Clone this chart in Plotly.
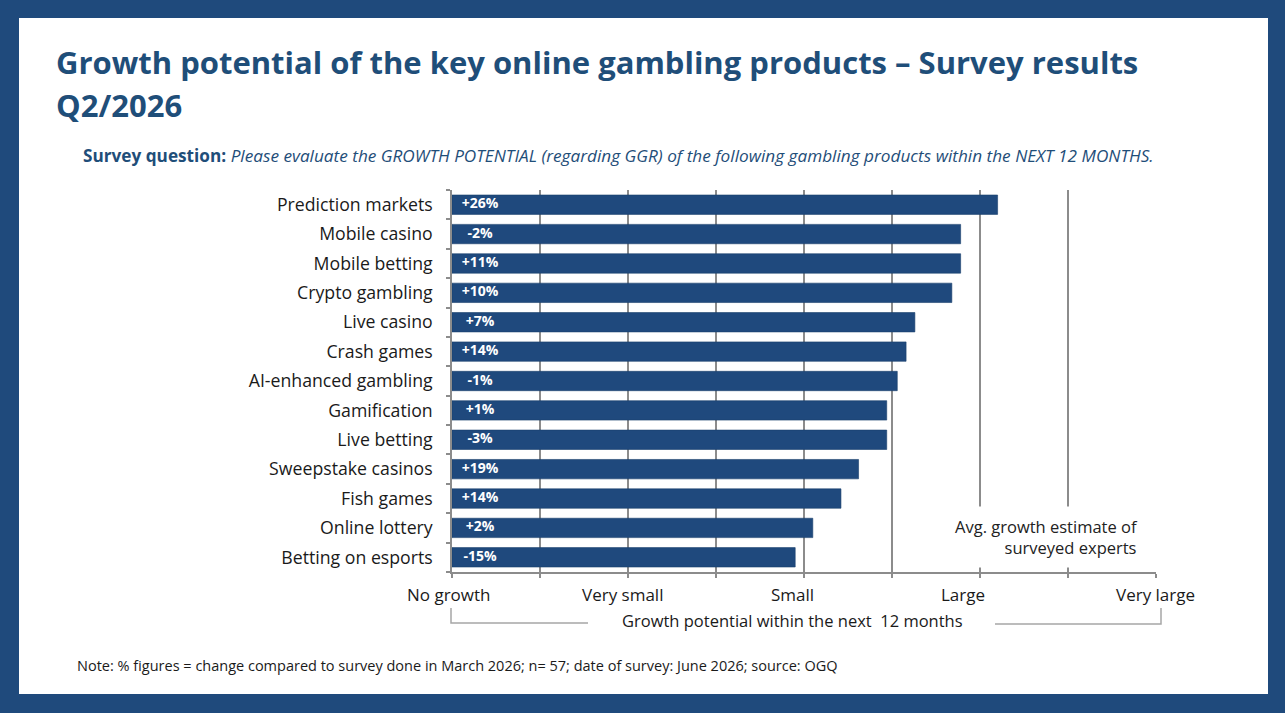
import plotly.graph_objects as go

categories = ["Prediction markets", "Mobile casino", "Mobile betting", "Crypto gambling",
              "Live casino", "Crash games", "AI-enhanced gambling", "Gamification",
              "Live betting", "Sweepstake casinos", "Fish games", "Online lottery",
              "Betting on esports"]
scores = [3.10, 2.89, 2.89, 2.84, 2.63, 2.58, 2.53, 2.47, 2.47, 2.31, 2.21, 2.05, 1.95]
changes = ["+26%", "-2%", "+11%", "+10%", "+7%", "+14%", "-1%", "+1%", "-3%",
           "+19%", "+14%", "+2%", "-15%"]
scale_labels = ["No growth", "Very small", "Small", "Large", "Very large"]
scale_label_px = [449, 622, 792, 963, 1155]

W, H = 1285, 713
L, R, T, B = 452, 1156, 190, 572
def px(x):
    return (x - L) / (R - L)
def py(y):
    return (B - y) / (B - T)

BLUE = "#1F4A7C"
BAR = "#1F497D"
GRID = "#8C8C8C"
FONT = "'Open Sans', Lato, sans-serif"
TXT = "#1a1a1a"

fig = go.Figure()
fig.add_trace(go.Bar(
    y=categories, x=scores, orientation="h",
    marker=dict(color=BAR, line=dict(color="#1A3F6B", width=0.6)),
    width=0.66, hoverinfo="skip",
))
fig.add_trace(go.Scatter(
    y=categories, x=[0.16] * len(categories), mode="text", text=changes,
    textposition="middle center",
    textfont=dict(color="white", size=14, family=FONT, weight="bold"),
    hoverinfo="skip",
))

annotations = []
for lab, p in zip(scale_labels, scale_label_px):
    annotations.append(dict(x=px(p), y=0, xref="paper", yref="paper", text=lab,
                            showarrow=False, xanchor="center", yanchor="top", yshift=-9,
                            font=dict(size=17, color=TXT, family=FONT)))
annotations += [
    dict(x=px(54), y=py(62), xref="paper", yref="paper", xanchor="left", yanchor="middle",
         text="<b>Growth potential of the key online gambling products – Survey results</b>",
         showarrow=False, font=dict(size=31, color="#1F4E79", family=FONT)),
    dict(x=px(54), y=py(105), xref="paper", yref="paper", xanchor="left", yanchor="middle",
         text="<b>Q2/2026</b>", showarrow=False,
         font=dict(size=31, color="#1F4E79", family=FONT)),
    dict(x=px(81), y=py(155), xref="paper", yref="paper", xanchor="left", yanchor="middle",
         text="<b>Survey question:</b> <i>Please evaluate the GROWTH POTENTIAL (regarding GGR) of the following gambling products within the NEXT 12 MONTHS.</i>",
         showarrow=False, font=dict(size=17.2, color="#1F4E79", family=FONT)),
    dict(x=px(1147), y=py(537), xref="paper", yref="paper", xanchor="right", yanchor="middle",
         text="Avg. growth estimate of<br>surveyed experts", align="right",
         showarrow=False, bgcolor="white", borderpad=8,
         font=dict(size=16.5, color="#222222", family=FONT)),
    dict(x=px(792), y=py(620), xref="paper", yref="paper", xanchor="center", yanchor="middle",
         text="Growth potential within the next  12 months", showarrow=False,
         font=dict(size=16.5, color=TXT, family=FONT)),
    dict(x=px(75), y=py(665), xref="paper", yref="paper", xanchor="left", yanchor="middle",
         text="Note: % figures = change compared to survey done in March 2026; n= 57; date of survey: June 2026; source: OGQ",
         showarrow=False, font=dict(size=14.5, color=TXT, family=FONT)),
]

shapes = [
    dict(type="rect", xref="paper", yref="paper", x0=px(19), x1=px(1268), y0=py(694), y1=py(18),
         fillcolor="white", line=dict(width=0), layer="below"),
    dict(type="path", xref="paper", yref="paper",
         path=f"M {px(451)},{py(608)} L {px(451)},{py(623)} L {px(588)},{py(623)}",
         line=dict(color="#A6A6A6", width=1.5)),
    dict(type="path", xref="paper", yref="paper",
         path=f"M {px(995)},{py(624)} L {px(1161)},{py(624)} L {px(1161)},{py(608)}",
         line=dict(color="#A6A6A6", width=1.5)),
]

fig.update_layout(
    width=W, height=H, autosize=False,
    margin=dict(l=L, r=W - R, t=T, b=H - B, pad=0),
    paper_bgcolor=BLUE, plot_bgcolor="white",
    showlegend=False, bargap=0.34,
    font=dict(family=FONT, size=16, color=TXT),
    annotations=annotations, shapes=shapes,
    xaxis=dict(range=[0, 4], tickvals=[i * 0.5 for i in range(9)], ticktext=[""] * 9,
               showgrid=True, gridcolor=GRID, gridwidth=1.5,
               showline=True, linecolor=GRID, linewidth=1.5,
               ticks="outside", ticklen=4, tickcolor=GRID, tickwidth=1.5,
               zeroline=False, fixedrange=True),
    yaxis=dict(categoryorder="array", categoryarray=categories[::-1],
               autorange=False, range=[-0.5, len(categories) - 0.5],
               showline=True, linecolor=GRID, linewidth=1.5,
               ticks="outside", ticklen=4, tickcolor=GRID, tickwidth=1.5,
               tickson="boundaries", ticklabelstandoff=14,
               tickfont=dict(size=17.7, color=TXT, family=FONT),
               showgrid=False, zeroline=False, fixedrange=True),
)

fig.write_html("out.html", config={"displayModeBar": False},
               post_script="document.body.style.margin='0';document.body.style.overflow='hidden';")
